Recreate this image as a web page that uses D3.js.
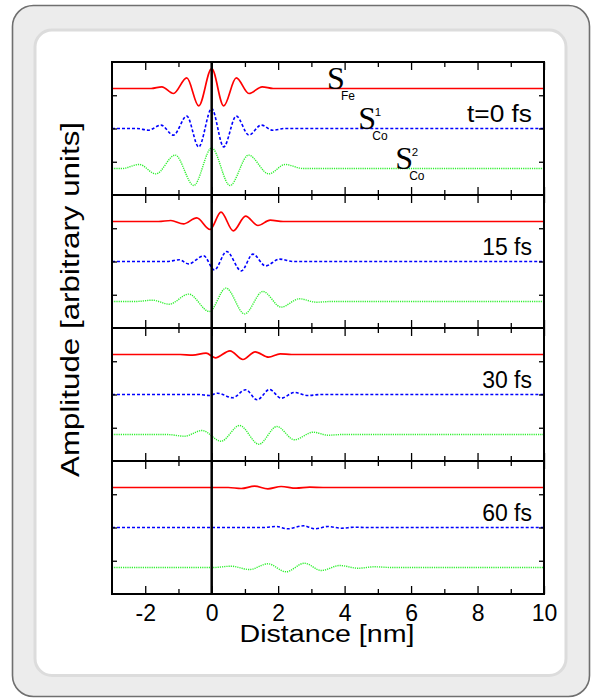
<!DOCTYPE html>
<html>
<head>
<meta charset="utf-8">
<script src="https://cdn.jsdelivr.net/npm/d3@7"></script>
<style>
  html, body { margin: 0; padding: 0; background: #ffffff; }
  svg { display: block; font-family: "Liberation Sans", Arial, sans-serif; }
</style>
</head>
<body>
<svg id="chart" width="594" height="698"></svg>
<script>
// ---- data -------------------------------------------------------------
// Spin-wave packets: [distance (nm), amplitude (arb. units)] at extrema,
// with the points where each packet fades into the flat background.
const xTicks = [-2, 0, 2, 4, 6, 8, 10];
const xMinorTicks = [-1, 1, 3, 5, 7, 9];
const panelLabels = ["t=0 fs", "15 fs", "30 fs", "60 fs"];

// t = 0 fs
const feT0 = [[-3,0],[-1.82,0],[-1.50,0.085],[-1.15,-0.25],[-0.75,0.53],[-0.39,-0.87],[0,1.0],
  [0.36,-0.87],[0.74,0.53],[1.12,-0.25],[1.52,0.085],[1.85,0],[10,0]];
const co1T0 = [[-3,0],[-2.25,0],[-1.90,-0.085],[-1.53,0.17],[-1.15,-0.33],[-0.75,0.62],[-0.39,-0.92],
  [0,1.0],[0.36,-0.92],[0.74,0.62],[1.12,-0.33],[1.49,0.17],[1.84,-0.085],[2.2,0],[10,0]];
const co2T0 = [[-3,0],[-2.7,0],[-2.18,0.2],[-1.68,-0.27],[-1.10,0.67],[-0.54,-0.85],[0,1.03],
  [0.55,-0.85],[1.11,0.67],[1.72,-0.27],[2.21,0.2],[2.75,0],[10,0]];

// t = 15 fs
const feT15 = [[-3,0],[-1.6,0],[-1.23,0.05],[-0.85,-0.12],[-0.45,0.18],[-0.05,-0.4],[0.28,0.47],
  [0.65,-0.47],[1.02,0.27],[1.39,-0.2],[1.76,0.065],[2.15,0],[10,0]];
const co1T15 = [[-3,0],[-1.35,0],[-0.97,0.085],[-0.70,-0.12],[-0.24,0.28],[0.08,-0.42],[0.45,0.5],
  [0.89,-0.47],[1.24,0.37],[1.62,-0.22],[2.04,0.12],[2.45,0],[10,0]];
const co2T15 = [[-3,0],[-2.3,0],[-1.78,0.065],[-1.28,-0.135],[-0.69,0.37],[-0.07,-0.5],[0.43,0.67],
  [0.99,-0.62],[1.54,0.5],[2.09,-0.28],[2.64,0.135],[3.15,-0.035],[3.6,0],[10,0]];

// t = 30 fs
const feT30 = [[-3,0],[-0.95,0],[-0.57,-0.035],[-0.17,0.065],[0.11,-0.165],[0.55,0.185],[0.94,-0.25],
  [1.31,0.135],[1.71,-0.135],[2.06,0.035],[2.4,0],[10,0]];
const co1T30 = [[-3,0],[-0.4,0],[-0.07,-0.05],[0.18,0.065],[0.63,-0.165],[1.02,0.235],[1.37,-0.265],
  [1.74,0.25],[2.09,-0.185],[2.49,0.1],[2.89,-0.05],[3.3,0],[10,0]];
const co2T30 = [[-3,0],[-1.35,0],[-0.82,-0.085],[-0.29,0.2],[0.28,-0.335],[0.84,0.45],[1.42,-0.485],
  [1.96,0.4],[2.49,-0.265],[3.05,0.115],[3.50,-0.035],[3.95,0],[10,0]];

// t = 60 fs
const feT60 = [[-3,0],[0.5,0],[0.89,-0.05],[1.29,0.065],[1.69,-0.065],[2.09,0.05],[2.54,-0.035],
  [2.95,0.015],[3.35,0],[10,0]];
const co1T60 = [[-3,0],[1.55,0],[1.94,0.05],[2.29,-0.065],[2.76,0.085],[3.10,-0.065],[3.50,0.05],
  [3.90,-0.035],[4.30,0.015],[4.7,0],[10,0]];
const co2T60 = [[-3,0],[0.05,0],[0.58,0.065],[1.14,-0.1],[1.69,0.185],[2.24,-0.215],[2.79,0.215],
  [3.30,-0.15],[3.85,0.1],[4.40,-0.035],[4.91,0.035],[5.4,0],[10,0]];

const feSeries = [feT0, feT15, feT30, feT60];
const co1Series = [co1T0, co1T15, co1T30, co1T60];
const co2Series = [co2T0, co2T15, co2T30, co2T60];

// ---- layout -----------------------------------------------------------
const svg = d3.select("#chart");
const plotLeft = 112, plotRight = 544, plotTop = 62, panelH = 133;
const nPanels = panelLabels.length;
const plotBottom = plotTop + panelH * nPanels;

// background card
svg.append("rect").attr("x", 12.5).attr("y", 5.5).attr("width", 577).attr("height", 691)
  .attr("rx", 21).attr("fill", "#ececec").attr("stroke", "#6f6f6f").attr("stroke-width", 1.6);
svg.append("rect").attr("x", 35).attr("y", 30).attr("width", 531).attr("height", 645.5)
  .attr("rx", 17).attr("fill", "#ffffff").attr("stroke", "#dcdcdc").attr("stroke-width", 3);

const x = d3.scaleLinear().domain([-3, 10]).range([plotLeft, plotRight]);

// traces: red solid (Fe), blue dashed (Co 1), green dotted (Co 2)
const traceStyle = [
  { series: feSeries,  offset: 2,  color: "#ff0000", width: 1.7, dash: null },
  { series: co1Series, offset: 0,  color: "#0000ff", width: 1.6, dash: "3,2" },
  { series: co2Series, offset: -2, color: "#2ef02e", width: 1.4, dash: "1.2,1" }
];

const g = svg.append("g");

panelLabels.forEach((label, i) => {
  const top = plotTop + panelH * i;
  const y = d3.scaleLinear().domain([-3.325, 3.325]).range([top + panelH, top]);
  const pg = g.append("g");

  traceStyle.forEach(t => {
    const line = d3.line()
      .x(d => x(d[0]))
      .y(d => y(d[1] + t.offset))
      .curve(d3.curveMonotoneX);
    pg.append("path").datum(t.series[i])
      .attr("d", line)
      .attr("fill", "none")
      .attr("stroke", t.color)
      .attr("stroke-width", t.width)
      .attr("stroke-dasharray", t.dash);
  });

  // inward ticks on all four sides of the panel
  const tickAxis = (axis, transform) => {
    const a = pg.append("g").attr("transform", transform).call(axis);
    a.select(".domain").remove();
    a.selectAll("text").remove();
    a.selectAll("line").attr("stroke", "#000").attr("stroke-width", 1.3);
  };
  tickAxis(d3.axisBottom(x).tickValues(xTicks).tickSize(8), `translate(0,${top})`);
  tickAxis(d3.axisBottom(x).tickValues(xMinorTicks).tickSize(5), `translate(0,${top})`);
  tickAxis(d3.axisTop(x).tickValues(xTicks).tickSize(8), `translate(0,${top + panelH})`);
  tickAxis(d3.axisTop(x).tickValues(xMinorTicks).tickSize(5), `translate(0,${top + panelH})`);
  const yt = [-1.6625, 0, 1.6625];
  tickAxis(d3.axisRight(y).tickValues(yt).tickSize(5), `translate(${plotLeft},0)`);
  tickAxis(d3.axisLeft(y).tickValues(yt).tickSize(5), `translate(${plotRight},0)`);

  // panel frame
  pg.append("rect").attr("x", plotLeft).attr("y", top)
    .attr("width", plotRight - plotLeft).attr("height", panelH)
    .attr("fill", "none").attr("stroke", "#000").attr("stroke-width", 2);

  // time label
  const tl = pg.append("text")
    .attr("x", 532).attr("y", y(0) - 6.5)
    .attr("text-anchor", "end")
    .attr("font-size", 23)
    .attr("fill", "#000")
    .text(label);
  if (i === 0) tl.attr("textLength", 65).attr("lengthAdjust", "spacingAndGlyphs");

  // series names in the first panel
  if (i === 0) {
    const serif = "'Liberation Serif', 'Times New Roman', serif";
    const names = [
      { sx: 3.47, off: 2,  sub: "Fe", sup: null },
      { sx: 4.41, off: 0,  sub: "Co", sup: "1" },
      { sx: 5.52, off: -2, sub: "Co", sup: "2" }
    ];
    names.forEach(n => {
      const bx = x(n.sx), by = y(n.off) + 0.5;
      pg.append("text").attr("x", bx).attr("y", by)
        .attr("font-family", serif).attr("font-size", 32).attr("fill", "#000").text("S");
      pg.append("text").attr("x", bx + 14).attr("y", by + 10.5)
        .attr("font-size", 12).attr("fill", "#000").text(n.sub);
      if (n.sup) {
        pg.append("text").attr("x", bx + 16.5).attr("y", by - 13.5)
          .attr("font-size", 11.5).attr("fill", "#000").text(n.sup);
      }
    });
  }
});

// vertical line at zero distance
g.append("line")
  .attr("x1", x(0)).attr("x2", x(0))
  .attr("y1", plotTop).attr("y2", plotBottom)
  .attr("stroke", "#000").attr("stroke-width", 2.5);

// bottom tick labels
const xAxis = g.append("g").attr("transform", `translate(0,${plotBottom})`)
  .call(d3.axisBottom(x).tickValues(xTicks).tickSize(0).tickPadding(11)
    .tickFormat(d => String(d)));
xAxis.select(".domain").remove();
xAxis.selectAll("text")
  .attr("font-size", 23)
  .attr("font-family", "'Liberation Sans', Arial, sans-serif")
  .attr("fill", "#000");

// axis titles
svg.append("text")
  .attr("x", (plotLeft + plotRight) / 2 - 1).attr("y", 642)
  .attr("text-anchor", "middle")
  .attr("font-size", 23)
  .attr("textLength", 175).attr("lengthAdjust", "spacingAndGlyphs")
  .attr("fill", "#000")
  .text("Distance [nm]");

svg.append("text")
  .attr("transform", "translate(78.5,299.5) rotate(-90)")
  .attr("text-anchor", "middle")
  .attr("font-size", 25)
  .attr("textLength", 355).attr("lengthAdjust", "spacingAndGlyphs")
  .attr("fill", "#000")
  .text("Amplitude [arbitrary units]");
</script>
</body>
</html>
